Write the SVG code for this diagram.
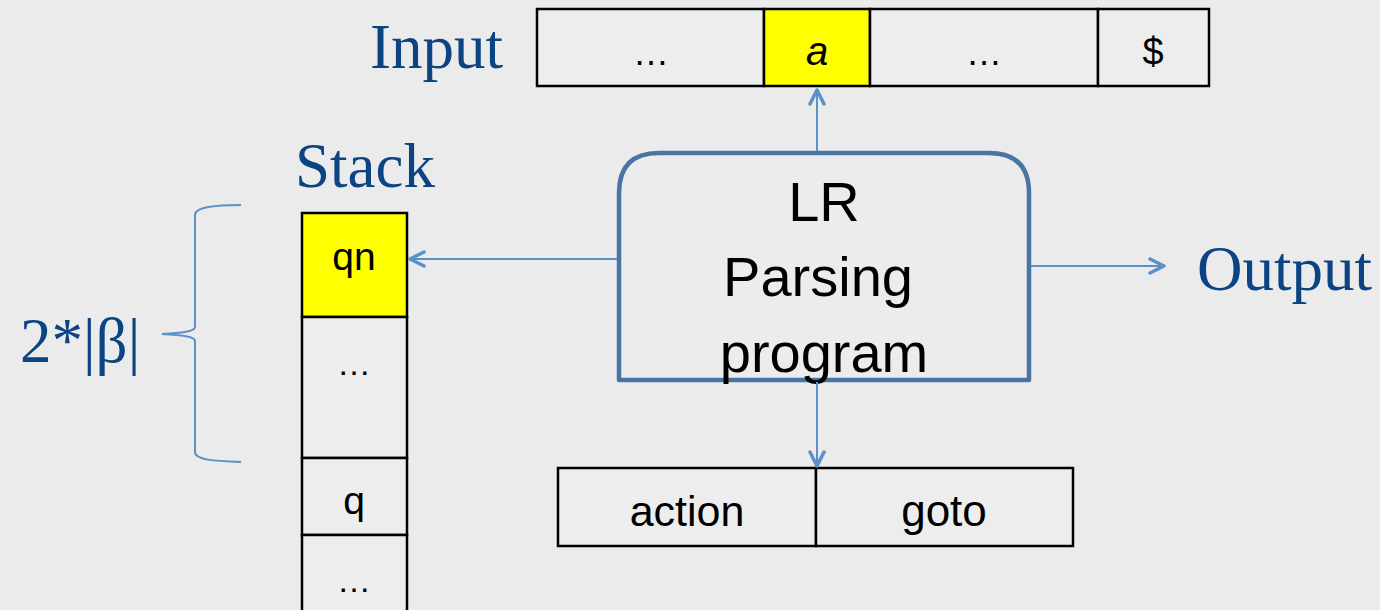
<svg xmlns="http://www.w3.org/2000/svg" width="1380" height="610" viewBox="0 0 1380 610">
<style>
.cell{fill:#ededed;stroke:#000;stroke-width:2.5}
.hl{fill:#ffff00;stroke:#000;stroke-width:2.5}
.t{font-family:"Liberation Sans",Arial,sans-serif;fill:#000;text-anchor:middle}
.lbl{font-family:"Liberation Serif","Times New Roman",serif;fill:#0b4383;font-size:63px}
.conn{stroke:#5b90c8;stroke-width:2;fill:none}
</style>
<defs>
<marker id="ah" viewBox="0 0 20 20" refX="18" refY="10" markerWidth="20" markerHeight="20" markerUnits="userSpaceOnUse" orient="auto">
<path d="M4,3 L18,10 L4,17" fill="none" stroke="#5b90c8" stroke-width="3.5" stroke-linecap="round" stroke-linejoin="round"/>
</marker>
</defs>
<rect width="1380" height="610" fill="#ebebeb"/>
<text class="lbl" x="370" y="68">Input</text>
<text class="lbl" x="295" y="187">Stack</text>
<text class="lbl" x="1197" y="290">Output</text>
<text class="lbl" x="20" y="362">2*|β|</text>
<g id="input">
<rect class="cell" x="537" y="9" width="227" height="77"/>
<rect class="hl" x="764" y="9" width="106" height="77"/>
<rect class="cell" x="870" y="9" width="228" height="77"/>
<rect class="cell" x="1098" y="9" width="111" height="77"/>
<text class="t" x="651" y="65" font-size="36">…</text>
<text class="t" x="817" y="65" font-size="40" font-style="italic">a</text>
<text class="t" x="984" y="65" font-size="36">…</text>
<text class="t" x="1153" y="65" font-size="38">$</text>
</g>
<g id="stack">
<rect class="hl" x="302" y="213" width="105" height="104"/>
<rect class="cell" x="302" y="317" width="105" height="141"/>
<rect class="cell" x="302" y="458" width="105" height="77"/>
<rect class="cell" x="302" y="535" width="105" height="85"/>
<text class="t" x="354" y="270" font-size="39">qn</text>
<text class="t" x="354" y="375" font-size="34">…</text>
<text class="t" x="354" y="514" font-size="39">q</text>
<text class="t" x="354" y="592" font-size="34">…</text>
</g>
<g id="brace">
<path d="M241,205 C215,205 195,207 195,215 L195,327 C195,331 185,333 162,334 C185,335 195,337 195,341 L195,452 C195,460 215,461 241,462" fill="none" stroke="#5b90c8" stroke-width="2"/>
</g>
<g id="program">
<path d="M619,380 L619,193 Q619,153 659,153 L989,153 Q1029,153 1029,193 L1029,380 Z" fill="#ececec" stroke="#4a74a2" stroke-width="4.5" stroke-linejoin="round"/>
<text class="t" x="824" y="221" font-size="56">LR</text>
<text class="t" x="818" y="296" font-size="56">Parsing</text>
<text class="t" x="824" y="372" font-size="56">program</text>
</g>
<g id="table">
<rect class="cell" x="558" y="468" width="258" height="78"/>
<rect class="cell" x="816" y="468" width="257" height="78"/>
<text class="t" x="687" y="526" font-size="43">action</text>
<text class="t" x="944" y="526" font-size="44">goto</text>
</g>
<g id="connectors">
<line class="conn" x1="817" y1="151" x2="817" y2="90" marker-end="url(#ah)"/>
<line class="conn" x1="617" y1="259" x2="410" y2="259" marker-end="url(#ah)"/>
<line class="conn" x1="1031" y1="266" x2="1164" y2="266" marker-end="url(#ah)"/>
<line class="conn" x1="817" y1="382" x2="817" y2="466" marker-end="url(#ah)"/>
</g>
</svg>
